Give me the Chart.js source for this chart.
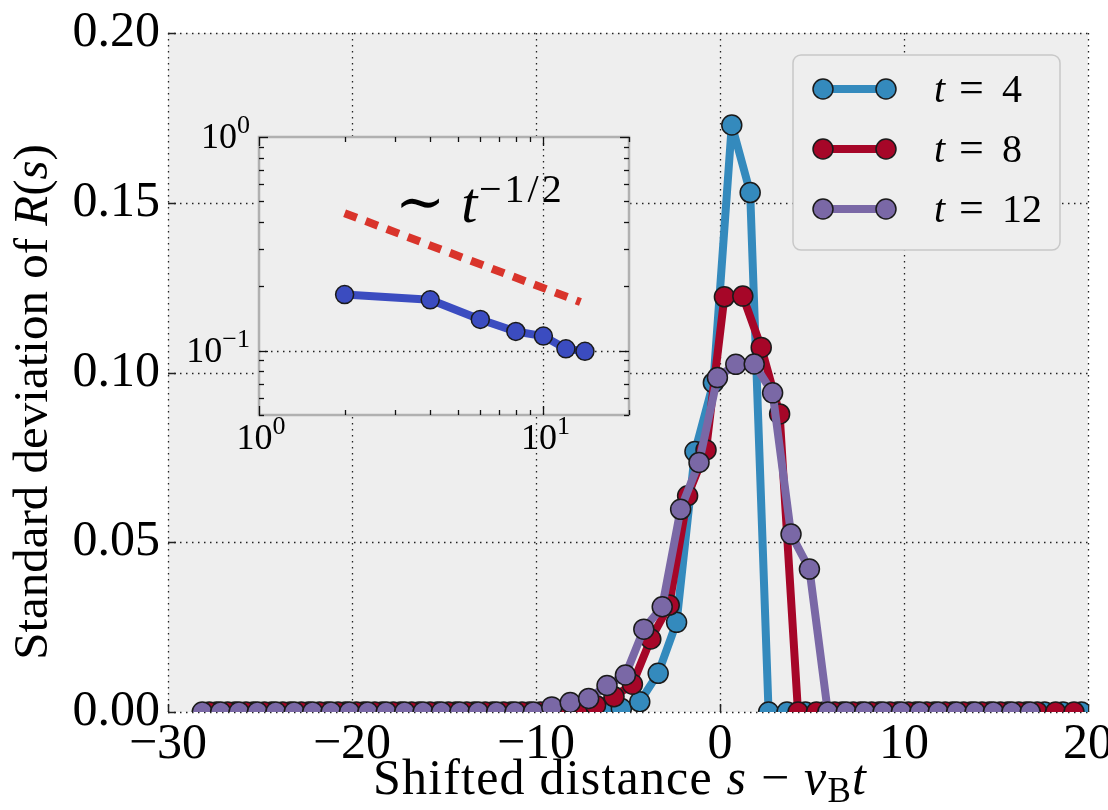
<!DOCTYPE html>
<html>
<head>
<meta charset="utf-8">
<script src="https://cdn.jsdelivr.net/npm/chart.js@4"></script>
<style>
  html, body { margin: 0; padding: 0; background: #fff; overflow: hidden; }
  #wrap { position: relative; width: 1108px; height: 810px; }
  #main { position: absolute; left: 0; top: 0; }
  #inset { position: absolute; left: 160px; top: 100px; }
</style>
</head>
<body>
<div id="wrap">
  <canvas id="main" width="1108" height="810"></canvas>
  <canvas id="inset" width="490" height="370"></canvas>
</div>
<script>
// shifted distance s - vB*t for each time, and std deviation of R(s)
const xT4 = [-27.36,-26.36,-25.36,-24.36,-23.36,-22.36,-21.36,-20.36,-19.36,-18.36,-17.36,-16.36,-15.36,-14.36,-13.36,-12.36,-11.36,-10.36,-9.36,-8.36,-7.36,-6.36,-5.36,-4.36,-3.36,-2.36,-1.36,-0.36,0.64,1.64,2.64,3.64,4.64,5.64,6.64,7.64,8.64,9.64,10.64,11.64,12.64,13.64,14.64,15.64,16.64,17.64,18.64,19.64];
const yT4 = [0,0,0,0,0,0,0,0,0,0,0,0,0,0,0,0,0,0,0,0,0,0,0.001,0.003,0.0114,0.0264,0.0767,0.097,0.1729,0.153,0,0,0,0,0,0,0,0,0,0,0,0,0,0,0,0,0,0];

const xT8 = [-27.76,-26.76,-25.76,-24.76,-23.76,-22.76,-21.76,-20.76,-19.76,-18.76,-17.76,-16.76,-15.76,-14.76,-13.76,-12.76,-11.76,-10.76,-9.76,-8.76,-7.76,-6.76,-5.76,-4.76,-3.76,-2.76,-1.76,-0.76,0.24,1.24,2.24,3.24,4.24,5.24,6.24,7.24,8.24,9.24,10.24,11.24,12.24,13.24,14.24,15.24,16.24,17.24,18.24,19.24];
const yT8 = [0,0,0,0,0,0,0,0,0,0,0,0,0,0,0,0,0,0,0,0,0,0.002,0.0045,0.0082,0.0215,0.0315,0.0637,0.0772,0.1223,0.1225,0.1074,0.0878,0,0,0,0,0,0,0,0,0,0,0,0,0,0,0,0];

const xT12 = [-28.14,-27.14,-26.14,-25.14,-24.14,-23.14,-22.14,-21.14,-20.14,-19.14,-18.14,-17.14,-16.14,-15.14,-14.14,-13.14,-12.14,-11.14,-10.14,-9.14,-8.14,-7.14,-6.14,-5.14,-4.14,-3.14,-2.14,-1.14,-0.14,0.86,1.86,2.86,3.86,4.86,5.86,6.86,7.86,8.86,9.86,10.86,11.86,12.86,13.86,14.86,15.86,16.86];
const yT12 = [0,0,0,0,0,0,0,0,0,0,0,0,0,0,0,0,0,0,0,0.0015,0.0028,0.004,0.0078,0.0109,0.0244,0.031,0.0597,0.0735,0.0985,0.1024,0.1025,0.094,0.0524,0.0421,0,0,0,0,0,0,0,0,0,0,0,0];

const seriesLabels = ["4", "8", "12"];

// inset: peak std deviation vs time (log-log)
const insetT = [2, 4, 6, 8, 10, 12, 14];
const insetStd = [0.183, 0.173, 0.140, 0.123, 0.117, 0.102, 0.0993];
const guideT = [2, 13.5];
const guideStd = [0.44, 0.169];

const xTicks = [-30, -20, -10, 0, 10, 20];
const yTicks = [0, 0.05, 0.10, 0.15, 0.20];
const insetXTicks = [1, 10];
const insetYTicks = [0.1, 1];

const SERIF = '"Liberation Serif", "DejaVu Serif", serif';
const BLUE = "#348ABD", RED = "#A60628", PURPLE = "#7A68A6";
const INSET_BLUE = "#3B4CC0", GUIDE_RED = "#D9342B";
const BG = "#eeeeee";

function pts(xs, ys) {
  return xs.map((x, i) => ({ x: x, y: ys[i] }));
}

function fmtNum(v) {
  return v < 0 ? "\u2212" + Math.abs(v) : String(v);
}

// draw text made of parts [text, font, dy, gapAfter]
function richWidth(ctx, parts) {
  let w = 0;
  parts.forEach(p => { ctx.font = p[1]; w += ctx.measureText(p[0]).width + (p[3] || 0); });
  return w;
}
function drawRich(ctx, parts, x, y, align) {
  let w = richWidth(ctx, parts);
  let cx = align === "center" ? x - w / 2 : (align === "right" ? x - w : x);
  ctx.textAlign = "left";
  ctx.textBaseline = "alphabetic";
  parts.forEach(p => {
    ctx.font = p[1];
    ctx.fillText(p[0], cx, y + (p[2] || 0));
    cx += ctx.measureText(p[0]).width + (p[3] || 0);
  });
}

function reg(s) { return s + "px " + SERIF; }
function ita(s) { return "italic " + s + "px " + SERIF; }

const mainDeco = {
  id: "mainDeco",
  beforeDraw(chart) {
    const a = chart.chartArea, ctx = chart.ctx;
    ctx.save();
    ctx.fillStyle = BG;
    ctx.fillRect(a.left, a.top, a.right - a.left, a.bottom - a.top);
    ctx.restore();
  },
  beforeDatasetsDraw(chart) {
    const a = chart.chartArea, ctx = chart.ctx;
    const sx = chart.scales.x, sy = chart.scales.y;
    ctx.save();
    ctx.strokeStyle = "#222";
    ctx.lineWidth = 1.3;
    ctx.setLineDash([1.5, 4.5]);
    xTicks.forEach(v => {
      const px = Math.round(sx.getPixelForValue(v)) + 0.5;
      ctx.beginPath(); ctx.moveTo(px, a.top); ctx.lineTo(px, a.bottom); ctx.stroke();
    });
    yTicks.forEach(v => {
      const py = Math.round(sy.getPixelForValue(v)) + 0.5;
      ctx.beginPath(); ctx.moveTo(a.left, py); ctx.lineTo(a.right, py); ctx.stroke();
    });
    ctx.setLineDash([]);
    ctx.lineWidth = 1.5;
    xTicks.forEach(v => {
      const px = Math.round(sx.getPixelForValue(v)) + 0.5;
      ctx.beginPath(); ctx.moveTo(px, a.bottom); ctx.lineTo(px, a.bottom - 8); ctx.stroke();
    });
    yTicks.forEach(v => {
      const py = Math.round(sy.getPixelForValue(v)) + 0.5;
      ctx.beginPath(); ctx.moveTo(a.left, py); ctx.lineTo(a.left + 8, py); ctx.stroke();
    });
    ctx.restore();
  },
  afterDraw(chart) {
    const a = chart.chartArea, ctx = chart.ctx;
    ctx.save();
    ctx.fillStyle = "#000";
    // axis titles
    ctx.letterSpacing = "1.2px";
    drawRich(ctx, [
      ["Shifted distance ", reg(50)], ["s", ita(50)], [" \u2212 ", reg(50)],
      ["v", ita(50)], ["B", reg(35), 8], ["t", ita(50)]
    ], 620, 794, "center");
    ctx.letterSpacing = "0px";
    ctx.save();
    ctx.translate(47, 402);
    ctx.rotate(-Math.PI / 2);
    drawRich(ctx, [
      ["Standard deviation of ", reg(49)], ["R", ita(49)], ["(", reg(49)],
      ["s", ita(49)], [")", reg(49)]
    ], 0, 0, "center");
    ctx.restore();

    // legend
    const bx = 793, by = 55, bw = 267, bh = 195;
    ctx.beginPath();
    ctx.roundRect(bx, by, bw, bh, 8);
    ctx.fillStyle = BG;
    ctx.fill();
    ctx.strokeStyle = "#c8c8c8";
    ctx.lineWidth = 1.5;
    ctx.stroke();
    const colors = [BLUE, RED, PURPLE];
    colors.forEach((c, i) => {
      const y = 89 + i * 60;
      ctx.strokeStyle = c;
      ctx.lineWidth = 8;
      ctx.beginPath(); ctx.moveTo(823, y); ctx.lineTo(886, y); ctx.stroke();
      [823, 886].forEach(x => {
        ctx.beginPath(); ctx.arc(x, y, 10, 0, Math.PI * 2);
        ctx.fillStyle = c; ctx.fill();
        ctx.lineWidth = 1.5; ctx.strokeStyle = "#1a1a1a"; ctx.stroke();
      });
      ctx.fillStyle = "#000";
      ctx.textAlign = "left";
      ctx.textBaseline = "alphabetic";
      ctx.font = ita(40);
      ctx.fillText("t", 934, y + 13);
      ctx.font = reg(44);
      ctx.fillText("=", 959, y + 13);
      ctx.font = reg(40);
      ctx.fillText(seriesLabels[i], 1002, y + 13);
    });
    ctx.restore();
  }
};

const mainLine = (xs, ys, color, order) => ({
  data: pts(xs, ys),
  borderColor: color,
  backgroundColor: color,
  borderWidth: 8,
  borderJoinStyle: "round",
  pointRadius: 10,
  pointBackgroundColor: color,
  pointBorderColor: "#1a1a1a",
  pointBorderWidth: 1.5,
  tension: 0,
  clip: 0,
  order: order
});

new Chart(document.getElementById("main"), {
  type: "line",
  data: {
    datasets: [
      mainLine(xT4, yT4, BLUE, 2),
      mainLine(xT8, yT8, RED, 1),
      mainLine(xT12, yT12, PURPLE, 0)
    ]
  },
  options: {
    responsive: false,
    animation: false,
    events: [],
    layout: { padding: { top: 33, right: 20, left: 0, bottom: 0 } },
    plugins: { legend: { display: false }, tooltip: { enabled: false } },
    scales: {
      x: {
        type: "linear", min: -30, max: 20,
        grid: { display: false, drawTicks: false },
        border: { display: false },
        ticks: {
          stepSize: 10, padding: 3, maxRotation: 0, color: "#000",
          font: { family: SERIF, size: 50 },
          callback: v => fmtNum(v)
        },
        afterFit: s => { s.height = 98; s.paddingLeft = 0; s.paddingRight = 0; }
      },
      y: {
        min: 0, max: 0.2,
        grid: { display: false, drawTicks: false },
        border: { display: false },
        ticks: {
          stepSize: 0.05, padding: 8, color: "#000",
          font: { family: SERIF, size: 50 },
          callback: v => v.toFixed(2)
        },
        afterFit: s => { s.width = 168; s.paddingTop = 0; s.paddingBottom = 0; }
      }
    }
  },
  plugins: [mainDeco]
});

// ---------- inset ----------
const insetDeco = {
  id: "insetDeco",
  beforeDraw(chart) {
    const a = chart.chartArea, ctx = chart.ctx;
    ctx.save();
    ctx.fillStyle = BG;
    ctx.fillRect(a.left, a.top, a.right - a.left, a.bottom - a.top);
    ctx.strokeStyle = "#222";
    ctx.lineWidth = 1.3;
    ctx.setLineDash([1.5, 4.5]);
    const px = Math.round(chart.scales.x.getPixelForValue(10)) + 0.5;
    ctx.beginPath(); ctx.moveTo(px, a.top); ctx.lineTo(px, a.bottom); ctx.stroke();
    const py = Math.round(chart.scales.y.getPixelForValue(0.1)) + 0.5;
    ctx.beginPath(); ctx.moveTo(a.left, py); ctx.lineTo(a.right, py); ctx.stroke();
    ctx.restore();
  },
  afterDatasetsDraw(chart) {
    const a = chart.chartArea, ctx = chart.ctx;
    const sx = chart.scales.x, sy = chart.scales.y;
    ctx.save();
    // frame
    ctx.strokeStyle = "#b0b0b0";
    ctx.lineWidth = 2.5;
    ctx.strokeRect(a.left, a.top, a.right - a.left, a.bottom - a.top);
    // inward ticks
    ctx.strokeStyle = "#111";
    ctx.lineWidth = 1.3;
    const xt = [1, 2, 3, 4, 5, 6, 7, 8, 9, 10, 20];
    xt.forEach(v => {
      const len = (v === 1 || v === 10) ? 9 : 5;
      const px = Math.round(sx.getPixelForValue(v)) + 0.5;
      ctx.beginPath(); ctx.moveTo(px, a.bottom); ctx.lineTo(px, a.bottom - len); ctx.stroke();
      ctx.beginPath(); ctx.moveTo(px, a.top); ctx.lineTo(px, a.top + len); ctx.stroke();
    });
    const yt = [0.05, 0.06, 0.07, 0.08, 0.09, 0.1, 0.2, 0.3, 0.4, 0.5, 0.6, 0.7, 0.8, 0.9, 1];
    yt.forEach(v => {
      const len = (v === 0.1 || v === 1) ? 9 : 5;
      const py = Math.round(sy.getPixelForValue(v)) + 0.5;
      ctx.beginPath(); ctx.moveTo(a.left, py); ctx.lineTo(a.left + len, py); ctx.stroke();
      ctx.beginPath(); ctx.moveTo(a.right, py); ctx.lineTo(a.right - len, py); ctx.stroke();
    });
    ctx.restore();
  },
  afterDraw(chart) {
    const a = chart.chartArea, ctx = chart.ctx;
    const sx = chart.scales.x, sy = chart.scales.y;
    ctx.save();
    ctx.fillStyle = "#000";
    const exp = v => Math.round(Math.log10(v));
    const expStr = e => (e < 0 ? "\u2212" : "") + Math.abs(e);
    insetXTicks.forEach(v => {
      drawRich(ctx, [["10", reg(36)], [expStr(exp(v)), reg(26), -15]],
        sx.getPixelForValue(v) + 2, a.bottom + 34, "center");
    });
    insetYTicks.forEach(v => {
      drawRich(ctx, [["10", reg(36)], [expStr(exp(v)), reg(26), -15]],
        a.left - 9, sy.getPixelForValue(v) + 11, "right");
    });
    // power-law annotation
    ctx.letterSpacing = "0px";
    drawRich(ctx, [["\u223C", reg(60), 0, 16], ["t", ita(58), 0, 2]], 235, 122, "left");
    ctx.letterSpacing = "3px";
    ctx.font = reg(40);
    ctx.fillText("\u22121/2", 319, 102);
    ctx.letterSpacing = "0px";
    ctx.restore();
  }
};

new Chart(document.getElementById("inset"), {
  type: "line",
  data: {
    datasets: [
      {
        data: pts(insetT, insetStd),
        borderColor: INSET_BLUE,
        borderWidth: 8,
        borderJoinStyle: "round",
        pointRadius: 9,
        pointBackgroundColor: INSET_BLUE,
        pointBorderColor: "#1a1a1a",
        pointBorderWidth: 1.5,
        tension: 0
      },
      {
        data: pts(guideT, guideStd),
        borderColor: GUIDE_RED,
        borderWidth: 8,
        borderDash: [13, 9.5],
        borderCapStyle: "butt",
        pointRadius: 0,
        tension: 0
      }
    ]
  },
  options: {
    responsive: false,
    animation: false,
    events: [],
    layout: { padding: { top: 37, right: 21, left: 0, bottom: 0 } },
    plugins: { legend: { display: false }, tooltip: { enabled: false } },
    scales: {
      x: {
        type: "logarithmic", min: 1, max: 20,
        grid: { display: false, drawTicks: false },
        border: { display: false },
        ticks: { display: false },
        afterFit: s => { s.height = 55; s.paddingLeft = 0; s.paddingRight = 0; }
      },
      y: {
        type: "logarithmic", min: 0.05, max: 1,
        grid: { display: false, drawTicks: false },
        border: { display: false },
        ticks: { display: false },
        afterFit: s => { s.width = 99; s.paddingTop = 0; s.paddingBottom = 0; }
      }
    }
  },
  plugins: [insetDeco]
});
</script>
</body>
</html>
